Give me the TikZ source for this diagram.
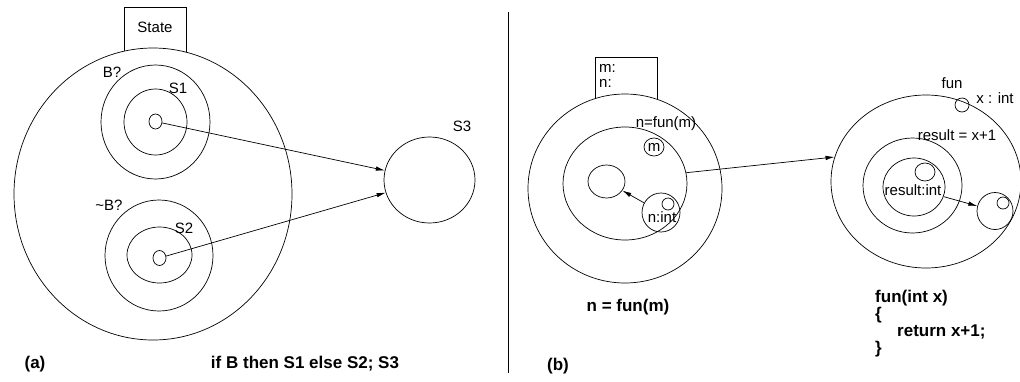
\documentclass[tikz,border=0pt]{standalone}
\usepackage{fontspec}
\setmainfont{Liberation Sans}
\usetikzlibrary{shapes.geometric,arrows.meta}
\tikzset{
  ov/.style={draw, ellipse, inner sep=0pt, line width=0.7pt},
  lbl/.style={inner sep=0pt, font=\fontsize{15}{18}\selectfont},
  bold/.style={inner sep=0pt, font=\fontsize{17}{17}\selectfont\bfseries},
  arr/.style={line width=0.7pt, -{Latex[length=9pt,width=4.5pt]}},
  tag/.style={draw, line width=0.7pt, fill=white, inner sep=0pt},
}
\begin{document}
\begin{tikzpicture}[x=1pt,y=-1pt]
\useasboundingbox (0,0) rectangle (1020,381);
% ---------- (a) ----------
\node[tag, minimum width=62pt, minimum height=50pt, anchor=north] (statebox) at (155,7) {};
\node[ov, fill=white, minimum width=278pt, minimum height=292pt] (big) at (153,194) {};
\node[lbl] (statelbl) at (155,27) {State};
\node[ov, minimum width=109pt, minimum height=114pt] (bq) at (155.5,122) {};
\node[ov, minimum width=63pt, minimum height=66pt] (s1) at (155.5,122) {};
\node[ov, minimum width=13pt, minimum height=15pt] (s1dot) at (155.5,121.5) {};
\node[ov, minimum width=108pt, minimum height=111pt] (nbq) at (159,255.5) {};
\node[ov, minimum width=65pt, minimum height=56pt] (s2) at (159.5,255) {};
\node[ov, minimum width=13pt, minimum height=15pt] (s2dot) at (159.5,258) {};
\node[ov, minimum width=91pt, minimum height=86pt] (s3) at (429.5,180) {};
\node[lbl] (bqlbl) at (112,72) {B?};
\node[lbl] (s1lbl) at (178,88) {S1};
\node[lbl] (nbqlbl) at (109,205) {\textasciitilde B?};
\node[lbl] (s2lbl) at (184,228) {S2};
\node[lbl] (s3lbl) at (462,126) {S3};
\draw[arr] (s1dot) -- (s3);
\draw[arr] (s2dot) -- (s3);
\node[bold] (alabel) at (35,364) {(a)};
\node[bold] (acap) at (305,364) {if B then S1 else S2; S3};
% divider
\coordinate (dtop) at (508,12);
\coordinate (dbot) at (508,373);
\draw[line width=0.7pt] (dtop) -- (dbot);
% ---------- (b) left ----------
\node[tag, minimum width=62pt, minimum height=45pt, anchor=north] (mnbox) at (626,57) {};
\node[ov, fill=white, minimum width=194pt, minimum height=189pt] (bout) at (625,188.5) {};
\node[lbl, anchor=west] (mlbl) at (599,68) {m:};
\node[lbl, anchor=west] (nlbl) at (599,83) {n:};
\node[ov, minimum width=124pt, minimum height=113pt] (bin) at (625,183.5) {};
\node[lbl] (callbl) at (666,124) {n=fun(m)};
\node[ov, minimum width=20pt, minimum height=18pt] (mcirc) at (654,147) {};
\node[lbl] (mlab) at (654,147) {m};
\node[ov, minimum width=37pt, minimum height=33pt] (res) at (606.5,181.5) {};
\node[ov, minimum width=38pt, minimum height=39pt] (nint) at (661,212.5) {};
\node[ov, minimum width=12pt, minimum height=12pt] (nintdot) at (668,204) {};
\node[lbl] (nintlbl) at (662,217) {n:int};
\draw[arr] (nint) -- (res);
\node[bold] (calltxt) at (628,307) {n = fun(m)};
\node[bold] (blabel) at (558,366) {(b)};
% ---------- (b) right ----------
\node[ov, minimum width=190pt, minimum height=173pt] (fout) at (926,181.5) {};
\node[lbl] (funlbl) at (952,83) {fun};
\node[ov, minimum width=14pt, minimum height=14pt] (xc) at (962,105) {};
\node[lbl] (xlbl) at (995,98) {x : int};
\node[ov, minimum width=99pt, minimum height=95pt] (fmid) at (912.5,185.5) {};
\node[lbl] (reslbl) at (957,135) {result = x+1};
\node[ov, minimum width=62pt, minimum height=58pt] (fin) at (914,187) {};
\node[ov, minimum width=20pt, minimum height=18pt] (finc) at (925,172) {};
\node[lbl] (rintlbl) at (913,190) {result:int};
\node[ov, minimum width=36pt, minimum height=37pt] (rc) at (995,211) {};
\node[ov, minimum width=12pt, minimum height=12pt] (rcdot) at (1003,203) {};
\draw[arr] (fin.-18) -- (rc);
\draw[arr] (bin.10) -- (fout.165);
\node[bold, anchor=north west, align=left] (code) at (875,290)
  {fun(int x)\\\{\\\hspace*{22pt}return x+1;\\\}};
\end{tikzpicture}
\end{document}
